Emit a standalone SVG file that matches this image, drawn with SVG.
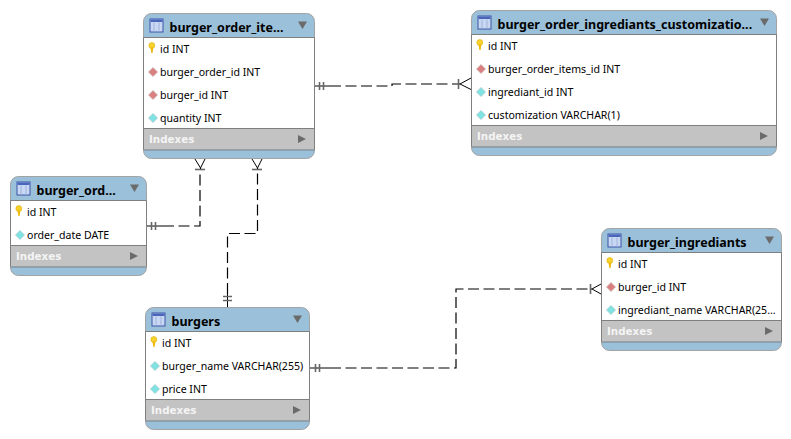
<svg xmlns="http://www.w3.org/2000/svg" width="791" height="439" viewBox="0 0 791 439">
<style>
.frame{fill:#9bc0da;stroke:#a3a3a3;stroke-width:1}
.body{fill:#fff}
.sep{stroke:#7f7f7f;stroke-width:1;fill:none}
.idx{fill:#c3c3c3}
.t{font:bold 12.500px "Noto Sans",sans-serif;fill:#000}
.r{font:10.550px "Noto Sans",sans-serif;fill:#000}
.x{font:bold 10.300px "DejaVu Sans",sans-serif;fill:#f4f4f4}
.tri{fill:#6b6b6b}
.con{fill:none;stroke:#000;stroke-width:1.2;stroke-dasharray:11 4.500}
.sym{fill:none;stroke:#000;stroke-width:1}
.bar{fill:none;stroke:#666;stroke-width:1.6}
</style>
<defs>
<g id="tic"><rect x="0.500" y="0.500" width="13" height="13" fill="#c9d8f2" stroke="#3b55a8"/><rect x="1" y="1" width="12" height="2.500" fill="#4a66bb"/><path d="M4.500 4V13M9.500 4V13" stroke="#9fb2dd" stroke-width="1"/></g>
<g id="key"><ellipse cx="3.300" cy="3" rx="3" ry="3" fill="#f7d22c" stroke="#d9a700" stroke-width=".5"/><path d="M2 5H4.800L4.100 10.500H2.800Z" fill="#eeb80f"/></g>
<g id="fk"><path d="M4.500 0L9 4.500L4.500 9L0 4.500Z" fill="#d97f7f" stroke="#c9b0b0" stroke-width=".7"/></g>
<g id="col"><path d="M4.500 0L9 4.500L4.500 9L0 4.500Z" fill="#7fe3e3" stroke="#a9c4c9" stroke-width=".7"/></g>
</defs>

<g id="connectors">
<path class="con" d="M330 86H392V84H458"/>
<path class="sym" d="M315 86H330"/><path class="bar" d="M319.500 82V90M323.500 82V90"/>
<path class="bar" d="M458.500 79V89"/><path class="sym" d="M459 84H460L471 78M460 84L471 89.500"/>
<path class="con" d="M163 226H200V169"/>
<path class="sym" d="M147 226H163"/><path class="bar" d="M151.500 222V230M155.500 222V230"/>
<path class="bar" d="M195 169.500H205"/><path class="sym" d="M200.500 169V168L195 159M200.500 168L205 159"/>
<path class="con" d="M227.500 294V233.500H257.500V169"/>
<path class="sym" d="M227.500 307V294"/><path class="bar" d="M223 296.500H232M223 300.500H232"/>
<path class="bar" d="M252 169.500H262"/><path class="sym" d="M257.500 169V168L252 159M257.500 168L262 159"/>
<path class="con" d="M330 368H456V289H590"/>
<path class="sym" d="M310 368H330"/><path class="bar" d="M315.500 364V372M319.500 364V372"/>
<path class="bar" d="M590.500 284V294"/><path class="sym" d="M591 289H592L601 284M592 289L601 294"/>
</g>

<g id="burger_order_items" transform="translate(143.500 13.500)">
<rect class="frame" width="171" height="145" rx="8"/>
<rect class="body" x=".5" y="24" width="170" height="91"/>
<rect class="idx" x=".5" y="115" width="170" height="21"/>
<path class="sep" d="M0 24H171M0 115H171M0 136.500H171M0 24V136M171 24V136"/>
<use href="#tic" x="6" y="5"/><text class="t" x="26" y="18">burger_order_ite...</text><path class="tri" d="M154.500 8H163.500L159 15.500Z"/>
<use href="#key" x="5" y="29"/><text class="r" x="16.500" y="39">id INT</text>
<use href="#fk" x="5" y="54"/><text class="r" x="16.500" y="62">burger_order_id INT</text>
<use href="#fk" x="5" y="77"/><text class="r" x="16.500" y="85">burger_id INT</text>
<use href="#col" x="5" y="100"/><text class="r" x="16.500" y="108">quantity INT</text>
<text class="x" x="5.500" y="129">Indexes</text><path class="tri" d="M154.500 121.500L162.500 125.500L154.500 129.500Z"/>
</g>

<g id="burger_order_ingrediants_customizations" transform="translate(471.500 10.500)">
<rect class="frame" width="305" height="145" rx="8"/>
<rect class="body" x=".5" y="24" width="304" height="91"/>
<rect class="idx" x=".5" y="115" width="304" height="21"/>
<path class="sep" d="M0 24H305M0 115H305M0 136.500H305M0 24V136M305 24V136"/>
<use href="#tic" x="6" y="5"/><text class="t" x="26" y="18">burger_order_ingrediants_customizatio...</text><path class="tri" d="M288.500 8H297.500L293 15.500Z"/>
<use href="#key" x="5" y="29"/><text class="r" x="16.500" y="39">id INT</text>
<use href="#fk" x="5" y="54"/><text class="r" x="16.500" y="62">burger_order_items_id INT</text>
<use href="#col" x="5" y="77"/><text class="r" x="16.500" y="85">ingrediant_id INT</text>
<use href="#col" x="5" y="100"/><text class="r" x="16.500" y="108">customization VARCHAR(1)</text>
<text class="x" x="5.500" y="129">Indexes</text><path class="tri" d="M288.500 121.500L296.500 125.500L288.500 129.500Z"/>
</g>

<g id="burger_orders" transform="translate(10.500 176.500)">
<rect class="frame" width="136" height="99" rx="8"/>
<rect class="body" x=".5" y="24" width="135" height="45"/>
<rect class="idx" x=".5" y="69" width="135" height="21"/>
<path class="sep" d="M0 24H136M0 69H136M0 90.500H136M0 24V90M136 24V90"/>
<use href="#tic" x="6" y="5"/><text class="t" x="26" y="18">burger_ord...</text><path class="tri" d="M119.500 8H128.500L124 15.500Z"/>
<use href="#key" x="5" y="29"/><text class="r" x="16.500" y="39">id INT</text>
<use href="#col" x="5" y="54"/><text class="r" x="16.500" y="62">order_date DATE</text>
<text class="x" x="5.500" y="83">Indexes</text><path class="tri" d="M119.500 75.500L127.500 79.500L119.500 83.500Z"/>
</g>

<g id="burger_ingrediants" transform="translate(601.500 228.500)">
<rect class="frame" width="180" height="122" rx="8"/>
<rect class="body" x=".5" y="24" width="179" height="68"/>
<rect class="idx" x=".5" y="92" width="179" height="21"/>
<path class="sep" d="M0 24H180M0 92H180M0 113.500H180M0 24V113M180 24V113"/>
<use href="#tic" x="6" y="5"/><text class="t" x="26" y="18">burger_ingrediants</text><path class="tri" d="M163.500 8H172.500L168 15.500Z"/>
<use href="#key" x="5" y="29"/><text class="r" x="16.500" y="39">id INT</text>
<use href="#fk" x="5" y="54"/><text class="r" x="16.500" y="62">burger_id INT</text>
<use href="#col" x="5" y="77"/><text class="r" x="16.500" y="85">ingrediant_name VARCHAR(25...</text>
<text class="x" x="5.500" y="106">Indexes</text><path class="tri" d="M163.500 98.500L171.500 102.500L163.500 106.500Z"/>
</g>

<g id="burgers" transform="translate(145.500 307.500)">
<rect class="frame" width="164" height="122" rx="8"/>
<rect class="body" x=".5" y="24" width="163" height="68"/>
<rect class="idx" x=".5" y="92" width="163" height="21"/>
<path class="sep" d="M0 24H164M0 92H164M0 113.500H164M0 24V113M164 24V113"/>
<use href="#tic" x="6" y="5"/><text class="t" x="26" y="18">burgers</text><path class="tri" d="M147.500 8H156.500L152 15.500Z"/>
<use href="#key" x="5" y="29"/><text class="r" x="16.500" y="39">id INT</text>
<use href="#col" x="5" y="54"/><text class="r" x="16.500" y="62">burger_name VARCHAR(255)</text>
<use href="#col" x="5" y="77"/><text class="r" x="16.500" y="85">price INT</text>
<text class="x" x="5.500" y="106">Indexes</text><path class="tri" d="M147.500 98.500L155.500 102.500L147.500 106.500Z"/>
</g>
</svg>
